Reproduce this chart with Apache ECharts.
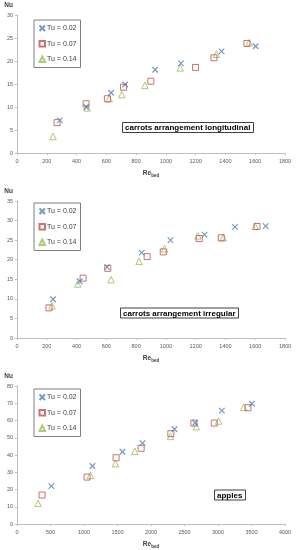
<!DOCTYPE html>
<html><head><meta charset="utf-8">
<script src="https://cdn.jsdelivr.net/npm/echarts@6/dist/echarts.min.js"></script>
<style>html,body{margin:0;padding:0;background:#fff}#c{width:297px;height:550px}</style>
</head><body><div id="c"></div>
<script>
// ---- data ----
const seriesNames = ['Tu = 0.02', 'Tu = 0.07', 'Tu = 0.14'];

// carrots arrangement longitudinal
const longRe02 = [287, 465, 632, 726, 928, 1101, 1374, 1603];
const longNu02 = [7.1, 10.0, 13.1, 14.9, 18.1, 19.5, 22.1, 23.2];
const longRe07 = [269, 464, 607, 715, 899, 1199, 1323, 1544];
const longNu07 = [6.6, 10.7, 11.8, 14.3, 15.6, 18.6, 20.7, 23.8];
const longRe14 = [242, 471, 619, 704, 859, 1096, 1340, 1560];
const longNu14 = [3.6, 9.8, 11.8, 12.7, 14.7, 18.5, 21.5, 24.0];

// carrots arrangement irregular
const irrRe02 = [242, 421, 605, 838, 1031, 1260, 1464, 1670];
const irrNu02 = [9.9, 14.5, 18.1, 21.8, 25.0, 26.4, 28.4, 28.6];
const irrRe07 = [215, 444, 610, 874, 982, 1224, 1372, 1612];
const irrNu07 = [7.7, 15.3, 17.8, 20.8, 22.0, 25.4, 25.6, 28.5];
const irrRe14 = [235, 408, 632, 820, 991, 1215, 1385, 1600];
const irrNu14 = [8.2, 13.8, 14.9, 19.6, 22.8, 26.1, 25.6, 28.5];

// apples
const appRe02 = [513, 1126, 1574, 1873, 2351, 2660, 3058, 3507];
const appNu02 = [22.0, 33.6, 41.9, 46.9, 54.9, 58.7, 65.7, 69.7];
const appRe07 = [374, 1046, 1479, 1853, 2296, 2640, 2944, 3447];
const appNu07 = [16.8, 27.2, 38.4, 43.9, 52.4, 58.5, 58.5, 67.4];
const appRe14 = [314, 1096, 1469, 1758, 2291, 2675, 3009, 3382];
const appNu14 = [12.0, 28.2, 35.0, 42.1, 50.8, 56.4, 59.7, 67.6];

const panelTitles = ['carrots arrangement longitudinal', 'carrots arrangement irregular', 'apples'];
const xMax = [1800, 1800, 4000];
const xStep = [200, 200, 500];
const yMax = [30, 35, 80];
const yStep = [5, 5, 10];

// ---- build ----
const zip = (a, b) => a.map((v, i) => [v, b[i]]);
const panels = [
  [[longRe02, longNu02], [longRe07, longNu07], [longRe14, longNu14]],
  [[irrRe02, irrNu02], [irrRe07, irrNu07], [irrRe14, irrNu14]],
  [[appRe02, appNu02], [appRe07, appNu07], [appRe14, appNu14]]
];
const gridTops = [15, 201, 386];
const gridH = [138, 137, 138];
const FONT = 'Liberation Sans';
const labelColor = '#595959';
const axisColor = '#bfbfbf';

const styles = [
  { symbol: 'path://M0,0L10,10M10,0L0,10', symbolSize: 5.5, itemStyle: { color: 'none', borderColor: '#4F81BD', borderWidth: 1.2 } },
  { symbol: 'rect', symbolSize: 6, itemStyle: { color: 'none', borderColor: '#C0504D', borderWidth: 1 } },
  { symbol: 'triangle', symbolSize: 6.5, itemStyle: { color: 'none', borderColor: '#9BBB59', borderWidth: 1 } }
];

const grid = [], xAxis = [], yAxis = [], series = [], legend = [], title = [];
const titlePos = [[122, 122.5], [120, 308], [214, 490]];
panels.forEach((p, k) => {
  grid.push({ left: 17, top: gridTops[k], width: 268, height: gridH[k], containLabel: false });
  xAxis.push({
    type: 'value', gridIndex: k, min: 0, max: xMax[k], interval: xStep[k],
    name: '{a|Re}{b|bed}', nameLocation: 'middle', nameGap: 15,
    nameTextStyle: { rich: { a: { fontFamily: FONT, fontSize: 6.5, fontWeight: 'bold', color: '#404040' }, b: { fontFamily: FONT, fontSize: 4.5, fontWeight: 'bold', color: '#404040', padding: [5, 0, 0, 0] } } },
    axisLine: { show: true, lineStyle: { color: axisColor, width: 1 } },
    axisTick: { show: true, length: 2, lineStyle: { color: axisColor } },
    axisLabel: { fontFamily: FONT, fontSize: 5.5, color: labelColor, margin: 5, formatter: v => String(v) },
    splitLine: { show: false }
  });
  yAxis.push({
    type: 'value', gridIndex: k, min: 0, max: yMax[k], interval: yStep[k],
    name: 'Nu', nameLocation: 'end', nameGap: 6,
    nameTextStyle: { fontFamily: FONT, fontSize: 6.5, fontWeight: 'bold', color: '#404040', align: 'right', padding: [0, 4, 0, 0] },
    axisLine: { show: true, lineStyle: { color: axisColor, width: 1 } },
    axisTick: { show: true, length: 2, lineStyle: { color: axisColor } },
    axisLabel: { fontFamily: FONT, fontSize: 5.5, color: labelColor, margin: 4, formatter: v => String(v) },
    splitLine: { show: false }
  });
  p.forEach((d, s) => {
    series.push(Object.assign({
      type: 'scatter', name: seriesNames[s], xAxisIndex: k, yAxisIndex: k,
      data: zip(d[0], d[1]), z: 3 - s
    }, styles[s]));
  });
  legend.push({
    data: seriesNames, orient: 'vertical', left: 34, top: [20, 203, 389][k],
    itemWidth: 5.5, itemHeight: 5.5, itemGap: 5, padding: [3, 4, 3, 3],
    borderColor: '#7f7f7f', borderWidth: 1, backgroundColor: '#fff',
    textStyle: { fontFamily: FONT, fontSize: 7, color: '#404040', padding: [0, 0, 0, -3] },
    selectedMode: false
  });
  title.push({
    text: panelTitles[k], left: titlePos[k][0], top: titlePos[k][1],
    borderColor: '#404040', borderWidth: 1, padding: [1.5, 3, 1, 3], backgroundColor: '#fff',
    textStyle: { fontFamily: FONT, fontSize: 8, fontWeight: 'bold', color: '#000' }
  });
});

const chart = echarts.init(document.getElementById('c'), null, { renderer: 'canvas' });
chart.setOption({ animation: false, backgroundColor: '#fff', grid, xAxis, yAxis, series, legend, title });
</script></body></html>
